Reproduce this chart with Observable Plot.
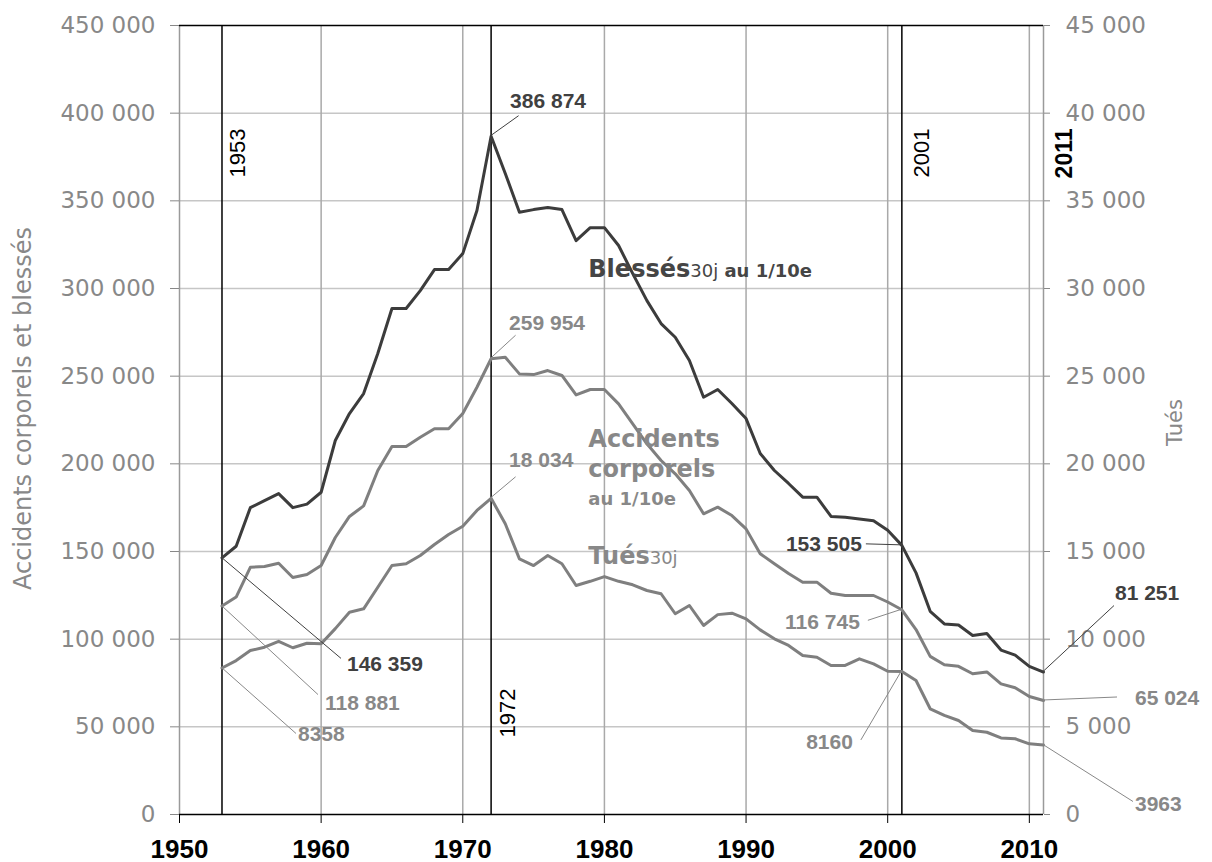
<!DOCTYPE html>
<html><head><meta charset="utf-8">
<script src="https://cdn.jsdelivr.net/npm/d3@7"></script>
<script src="https://cdn.jsdelivr.net/npm/@observablehq/plot@0.6"></script>
<style>body{margin:0;background:#fff}#chart svg{display:block}</style>
</head><body><div id="chart"></div>
<script>
// ---------- DATA ----------
const years = [1953,1954,1955,1956,1957,1958,1959,
  1960,1961,1962,1963,1964,1965,1966,1967,1968,1969,
  1970,1971,1972,1973,1974,1975,1976,1977,1978,1979,
  1980,1981,1982,1983,1984,1985,1986,1987,1988,1989,
  1990,1991,1992,1993,1994,1995,1996,1997,1998,1999,
  2000,2001,2002,2003,2004,2005,2006,2007,2008,2009,
  2010,2011];
const blesses = [146359,153000,175000,179000,183000,175000,177000,
  183800,213300,228700,240100,262900,288600,288600,298800,310800,310800,
  319900,344500,386874,365600,343500,345000,346200,345000,327300,334700,
  334700,324500,308500,293100,280000,272200,258900,238000,242400,234400,
  225800,205900,196200,188800,181000,181000,170000,169500,168500,167600,
  162100,153505,137800,115900,108700,108100,102100,103200,93800,90900,
  84500,81251];
const accidents = [118881,124000,141000,141400,143300,135200,136900,
  142000,158000,170000,176000,196200,209900,209900,215200,220000,220000,
  228700,243700,259954,260800,251300,250900,253200,250400,239300,242400,
  242400,234200,222800,211400,201900,194300,184800,171500,175300,170500,
  162900,148700,143000,137400,132500,132500,126200,124900,124900,124900,
  121200,116745,105500,90200,85400,84500,80300,81300,74500,72300,
  67300,65024];
const tues = [8358,8780,9350,9540,9880,9510,9770,
  9740,10600,11540,11730,12960,14200,14300,14770,15400,15970,
  16440,17340,18034,16580,14580,14200,14770,14300,13060,13300,
  13570,13300,13100,12775,12590,11450,11920,10780,11400,11480,
  11160,10530,10020,9640,9070,8970,8500,8500,8880,8590,
  8170,8160,7640,6030,5650,5360,4790,4690,4370,4320,
  4030,3963];
const xTicks = [1950,1960,1970,1980,1990,2000,2010];
const leftTicks = [0,50000,100000,150000,200000,250000,300000,350000,400000,450000];
const refYears = [1953,1972,2001,2011];
const annotSeries = ["blesses","accidents","tues","blesses","accidents","tues","blesses","accidents","tues","blesses","accidents","tues"];
const annotYears  = [1953,1953,1953,1972,1972,1972,2001,2001,2001,2011,2011,2011];
const annotValues = [146359,118881,8358,386874,259954,18034,153505,116745,8160,81251,65024,3963];
const leftTitle = "Accidents corporels et blessés";
const rightTitle = "Tués";

// ---------- HELPERS ----------
const loc = d3.formatLocale({decimal: ",", thousands: "\u00a0", grouping: [3], currency: ["", ""]});
const fmtGroup = loc.format(",d");
const fmtVal = v => (v >= 10000 ? fmtGroup(v) : String(v));
const ratio = 10; // right axis (Tués) = left axis / 10
const rows = years.map((year, i) => ({year, blesses: blesses[i], accidents: accidents[i], tues: tues[i]}));

const DARK = "#3c3c3c", GRAYLINE = "#7f7f7f", GRAYTXT = "#888888";
const seriesColor = {blesses: DARK, accidents: GRAYLINE, tues: GRAYLINE};
const seriesText = {blesses: "#404040", accidents: GRAYTXT, tues: GRAYTXT};
const seriesMult = {blesses: 1, accidents: 1, tues: ratio};

// annotation placement (pixel offsets from the data point): leader end, text anchor
const placement = [
  {lx:119.5, ly:101, tx:125.5, ty:106, anchor:"start"},
  {lx:96.5, ly:89, tx:103.5, ty:97, anchor:"start"},
  {lx:74.5, ly:66, tx:76.5, ty:66, anchor:"start"},
  {lx:28, ly:-20, tx:19.5, ty:-35, anchor:"start"},
  {lx:25, ly:-23, tx:18.5, ty:-36, anchor:"start"},
  {lx:25, ly:-21, tx:18.5, ty:-38, anchor:"start"},
  {lx:-35.5, ly:-1, tx:-39.5, ty:-1, anchor:"end"},
  {lx:-33.5, ly:11, tx:-41.5, ty:12, anchor:"end"},
  {lx:-40.5, ly:69, tx:-48.5, ty:71, anchor:"end"},
  {lx:71, ly:-66, tx:72, ty:-79, anchor:"start"},
  {lx:74, ly:-3, tx:92, ty:-3, anchor:"start"},
  {lx:90, ly:57, tx:92, ty:59, anchor:"start"}
];

function annotationMark(index, scales) {
  const g = d3.create("svg:g");
  annotValues.forEach((v, i) => {
    const s = annotSeries[i], p = placement[i];
    const px = scales.x(annotYears[i]), py = scales.y(v * seriesMult[s]);
    g.append("line").attr("x1", px).attr("y1", py).attr("x2", px + p.lx).attr("y2", py + p.ly)
      .attr("stroke", seriesText[s]).attr("stroke-width", 1);
    g.append("text").attr("x", px + p.tx).attr("y", py + p.ty).attr("dy", "0.36em")
      .attr("text-anchor", p.anchor).attr("font-family", "Liberation Sans, Arial, sans-serif")
      .attr("font-size", 21).attr("font-weight", "bold").attr("fill", seriesText[s])
      .text(fmtVal(v));
  });
  return g.node();
}

// series labels: [year, value] anchor in data space, with styled pieces
const seriesLabels = [
  {at: [1978.9, 311400], color: "#454545", parts: [["Blessés", "bold", 24], ["30j", "normal", 18], [" au 1/10e", "bold", 18]]},
  {at: [1978.9, 214400], color: GRAYTXT, parts: [["Accidents", "bold", 24]]},
  {at: [1978.9, 197300], color: GRAYTXT, parts: [["corporels", "bold", 24]]},
  {at: [1978.9, 180200], color: GRAYTXT, parts: [["au 1/10e", "bold", 18]]},
  {at: [1978.9, 147700], color: GRAYTXT, parts: [["Tués", "bold", 24], ["30j", "normal", 18]]}
];
function seriesLabelMark(index, scales) {
  const g = d3.create("svg:g").attr("font-family", "DejaVu Sans, sans-serif").attr("text-anchor", "start");
  seriesLabels.forEach(l => {
    const t = g.append("text").attr("x", scales.x(l.at[0])).attr("y", scales.y(l.at[1]))
      .attr("dy", "0.36em").attr("text-anchor", "start").attr("fill", l.color).attr("font-size", l.parts[0][2]);
    l.parts.forEach(([txt, w, sz]) => {
      t.append("tspan").attr("font-weight", w).attr("font-size", sz).text(txt);
    });
  });
  return g.node();
}

const chart = Plot.plot({
  width: 1212, height: 862,
  marginLeft: 179, marginRight: 169, marginTop: 25, marginBottom: 48,
  style: {fontFamily: "Liberation Sans, Arial, sans-serif", background: "#fff", overflow: "visible"},
  x: {domain: [1950, 2011], axis: null},
  y: {domain: [0, 450000], axis: null},
  marks: [
    Plot.ruleY(leftTicks.filter(d => d > 0 && d < 450000), {stroke: "#c6c6c6", strokeWidth: 1.5}),
    Plot.ruleX(xTicks.filter(d => d > 1950), {stroke: "#a9a9a9", strokeWidth: 1.5}),
    Plot.ruleX([1950, 2011], {stroke: "#9a9a9a", strokeWidth: 1.5}),
    Plot.ruleY([450000], {stroke: "#000", strokeWidth: 1.5}),
    Plot.ruleX(refYears.filter(d => d < 2011), {stroke: "#000", strokeWidth: 1.5}),
    Plot.line(rows, {x: "year", y: d => d.tues * ratio, stroke: seriesColor.tues, strokeWidth: 3}),
    Plot.line(rows, {x: "year", y: "accidents", stroke: seriesColor.accidents, strokeWidth: 3}),
    Plot.line(rows, {x: "year", y: "blesses", stroke: seriesColor.blesses, strokeWidth: 3}),
    Plot.ruleY([0], {stroke: "#000", strokeWidth: 1.5}),
    Plot.axisY({anchor: "left", ticks: leftTicks, tickFormat: fmtGroup, tickSize: 9, tickPadding: 15,
      fontSize: 23, fontFamily: "DejaVu Sans, sans-serif", color: GRAYTXT, label: null}),
    Plot.axisY({anchor: "right", ticks: leftTicks, tickFormat: d => fmtGroup(d / ratio), tickSize: 6, tickPadding: 16,
      fontSize: 23, fontFamily: "DejaVu Sans, sans-serif", color: GRAYTXT, label: null}),
    Plot.axisX({ticks: xTicks, tickFormat: d => String(d), tickSize: 9, tickPadding: 16,
      fontSize: 26, fontWeight: "bold", color: "#000", label: null}),
    Plot.text(refYears.filter(d => d === 1953), {x: d => d, text: d => String(d), frameAnchor: "top", dy: 103, dx: 16,
      rotate: -90, textAnchor: "end", lineAnchor: "middle", fontSize: 22, fill: "#000"}),
    Plot.text(refYears.filter(d => d === 2001), {x: d => d, text: d => String(d), frameAnchor: "top", dy: 103, dx: 20.5,
      rotate: -90, textAnchor: "end", lineAnchor: "middle", fontSize: 22, fill: "#000"}),
    Plot.text(refYears.filter(d => d === 2011), {x: d => d, text: d => String(d), frameAnchor: "top", dy: 103, dx: 21,
      rotate: -90, textAnchor: "end", lineAnchor: "middle", fontSize: 23, fontWeight: "bold", fill: "#000"}),
    Plot.text(refYears.filter(d => d === 1972), {x: d => d, text: d => String(d), frameAnchor: "top", dy: 663, dx: 17,
      rotate: -90, textAnchor: "end", lineAnchor: "middle", fontSize: 22, fill: "#000"}),
    Plot.text([leftTitle], {text: d => d, frameAnchor: "left", dx: -156, dy: -11.5, rotate: -90,
      textAnchor: "middle", lineAnchor: "middle", fontSize: 24, fontFamily: "DejaVu Sans, sans-serif", fill: GRAYTXT}),
    Plot.text([rightTitle], {text: d => d, frameAnchor: "right", dx: 132, dy: 2.5, rotate: -90,
      textAnchor: "middle", lineAnchor: "middle", fontSize: 21, fontFamily: "DejaVu Sans, sans-serif", fill: GRAYTXT}),
    seriesLabelMark,
    annotationMark
  ]
});
document.getElementById("chart").appendChild(chart);
</script>
</body></html>
